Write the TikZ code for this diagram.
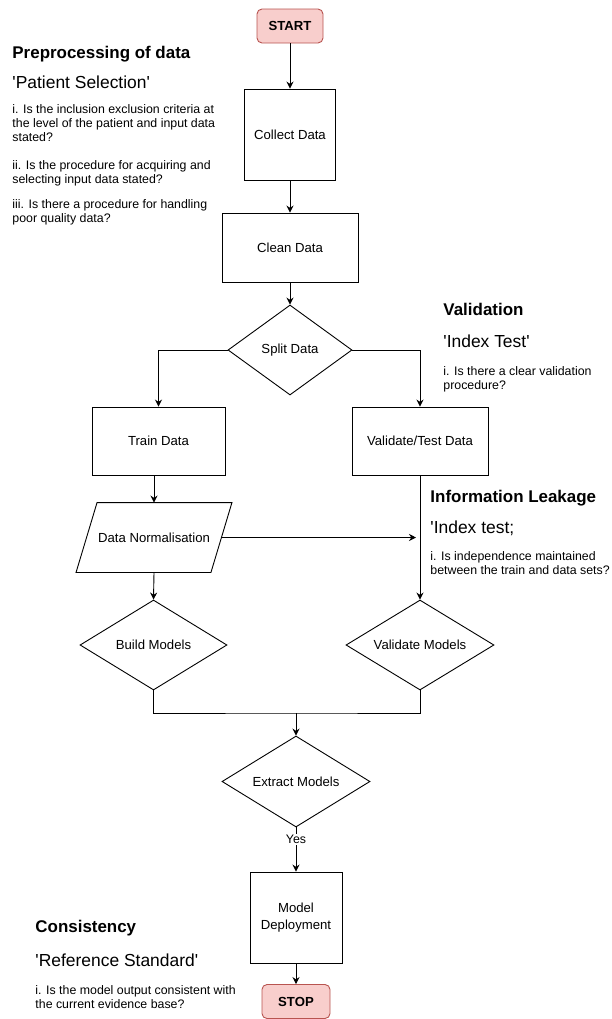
\documentclass[tikz,border=0pt]{standalone}
\usepackage{fontspec}
\setmainfont{Liberation Sans}
\usetikzlibrary{shapes.geometric,arrows.meta}
\definecolor{termfill}{HTML}{F8CECC}
\definecolor{termline}{HTML}{B85450}
\begin{document}
\begin{tikzpicture}[x=1bp,y=-1bp,line width=0.9bp,
    every node/.style={font=\fontsize{13.2}{16.5}\selectfont,align=center},
    terminal/.style={draw=termline,fill=termfill,rounded corners=5bp,minimum width=66bp,minimum height=34bp,font=\fontsize{13.2}{16}\selectfont\bfseries},
    process/.style={draw,rectangle,inner sep=0pt},
    decision/.style={draw,diamond,inner sep=0pt,aspect=1.6},
    iobox/.style={rectangle,inner sep=0pt},
    heading/.style={anchor=west,inner sep=0pt,font=\fontsize{17}{20}\selectfont\bfseries},
    subheading/.style={anchor=west,inner sep=0pt,font=\fontsize{17.5}{20}\selectfont},
    question/.style={anchor=west,inner sep=0pt,align=left,font=\fontsize{12.4}{14}\selectfont},
    arr/.style={-{Stealth[length=7bp,width=7bp]}}]
  \useasboundingbox (0,0) rectangle (612,1019);

  \draw
    (290,26) node[terminal] (start){START}
    (290,134.5) node[process,minimum width=91bp,minimum height=91bp] (collect){Collect Data}
    (290,247.5) node[process,minimum width=136bp,minimum height=69bp] (clean){Clean Data}
    (290,350) node[decision,minimum width=124bp,minimum height=90bp] (split){Split Data}
    (158.5,441) node[process,minimum width=133bp,minimum height=68bp] (train){Train Data}
    (420,441) node[process,minimum width=136bp,minimum height=68bp] (validate){Validate/Test Data}
    (154,537.5) node[iobox,minimum width=155bp,minimum height=69bp] (dnorm){Data Normalisation}
    (153.5,645) node[decision,minimum width=147bp,minimum height=90bp] (build){Build Models}
    (420,645) node[decision,minimum width=148bp,minimum height=90bp] (valmod){Validate Models}
    (296,781.5) node[decision,minimum width=148bp,minimum height=91bp] (extract){Extract Models}
    (296,917.5) node[process,minimum width=92bp,minimum height=91bp] (deploy){Model\\Deployment}
    (296,1001.5) node[terminal,minimum width=68bp] (stop){STOP};
  \draw (dnorm.south west) -- ([xshift=-21bp]dnorm.south east) -- (dnorm.north east)
    -- ([xshift=21bp]dnorm.north west) -- cycle;

  \coordinate (join) at (296,713);
  \coordinate (leak) at ([xshift=-4bp]validate.south |- dnorm.east);

  \begin{scope}[arr]
    \draw (start) to (collect);
    \draw (collect) to (clean);
    \draw (clean) to (split);
    \draw (split.west) -| (train.north);
    \draw (split.east) -| (validate.north);
    \draw (dnorm.north |- train.south) to (dnorm.north);
    \draw (dnorm.south) to (build.north);
    \draw (validate.south) to (valmod.north);
    \draw ([xshift=-10.5bp]dnorm.east) to (leak);
    \draw (join) to (extract.north);
    \draw (extract.south) to node[pos=0.27,fill=white,inner sep=1bp,font=\fontsize{12.4}{14}\selectfont] (yes){Yes} (deploy.north);
    \draw (deploy) to (stop);
  \end{scope}
  \draw (build.south) |- (join) -| (valmod.south);

  \draw
    (12,54) node[heading] (pre){Preprocessing of data}
    (12,82) node[subheading] (patient){\textquotesingle Patient Selection\textquotesingle}
    (12,123.5) node[question] (pre1){i. Is the inclusion exclusion criteria at\\the level of the patient and input data\\stated?}
    (12,173) node[question] (pre2){ii. Is the procedure for acquiring and\\selecting input data stated?}
    (12,212) node[question] (pre3){iii. Is there a procedure for handling\\poor quality data?}
    (443,309) node[heading] (valid){Validation}
    (443,341) node[subheading] (index){\textquotesingle Index Test\textquotesingle}
    (443,379.5) node[question] (valid1){i. Is there a clear validation\\procedure?}
    (430,498) node[heading] (info){Information Leakage}
    (430,528) node[subheading] (indextest){\textquotesingle Index test;}
    (430,563) node[question] (info1){i. Is independence maintained\\between the train and data sets?}
    (35,928) node[heading] (cons){Consistency}
    (35,960) node[subheading] (refstd){\textquotesingle Reference Standard\textquotesingle}
    (35,997) node[question] (cons1){i. Is the model output consistent with\\the current evidence base?};
\end{tikzpicture}
\end{document}
